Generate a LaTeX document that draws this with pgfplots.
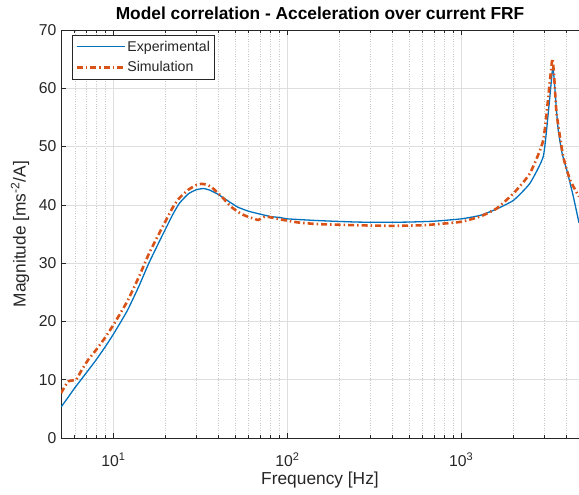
\documentclass[border=0pt]{standalone}
\usepackage{fontspec}
\setmainfont{Liberation Sans}
\usepackage{pgfplots}
\pgfplotsset{compat=1.18}
\definecolor{mblue}{RGB}{0,114,189}
\definecolor{morange}{RGB}{217,83,25}
\definecolor{axc}{RGB}{38,38,38}
\definecolor{gridc}{RGB}{222,222,222}
\definecolor{gridm}{RGB}{200,200,200}

\pgfplotstableread{
f v
5 5.3
5.5 7.0
6 8.6
7 11.2
8 13.5
9 15.7
10 17.8
12 21.8
14 26.0
16 30.0
19 34.6
22 38.4
24 40.3
27 41.9
30 42.6
33 42.8
36 42.5
40 41.8
46 40.6
52 39.6
60 38.9
70 38.4
80 38.0
92 37.8
100 37.6
150 37.3
250 37.05
357 37.0
500 37.05
700 37.2
1000 37.6
1285 38.2
1600 39.3
2000 40.8
2480 43.7
2960 48.3
3160 55.7
3300 61.5
3350 63.5
3390 62.8
3450 60.0
3520 56.5
3610 52.8
3800 48.8
4040 46.0
4400 41.5
4750 36.9
}\exper

\pgfplotstableread{
f v
5 7.7
5.5 9.7
6.1 10.0
6.5 11.4
7.16 13.4
8 15.2
9 17.3
10 19.4
12 23.4
14 27.6
16 31.6
19 36.0
22 39.6
24 41.2
27 42.6
30 43.4
32 43.6
34 43.5
36.5 43.1
42 41.4
47.4 39.7
54 38.5
60 37.9
65 37.6
68 37.4
75 38.0
91.5 37.5
114 37.0
150 36.7
250 36.5
400 36.4
600 36.5
800 36.8
1000 37.1
1285 38.0
1600 39.4
2000 42.0
2480 45.4
2960 51.1
3236 61.4
3340 65.1
3420 62.0
3530 55.7
3855 48.3
4217 44.3
4750 41.4
}\simul

\begin{document}
\begin{tikzpicture}
\begin{axis}[
  name=ax,
  scale only axis, width=518bp, height=408bp,
  xmode=log, xmin=5, xmax=4750, ymin=0, ymax=70,
  ytick={0,10,...,70},
  xtick={10,100,1000},
  xticklabels={10\textsuperscript{1},10\textsuperscript{2},10\textsuperscript{3}},
  minor xtick={5,6,7,8,9,20,30,40,50,60,70,80,90,200,300,400,500,600,700,800,900,2000,3000,4000},
  axis y line*=left,
  axis line style={color=axc, line width=0.6bp},
  tick style={color=axc, line width=0.6bp},
  major tick length=5bp, minor tick length=3bp,
  tick align=inside,
  grid=both,
  major grid style={color=gridc, line width=0.5bp},
  minor grid style={color=gridm, line width=0.5bp, dotted},
  /pgf/number format/assume math mode=true,
  tick label style={font=\fontsize{15.8}{18}\selectfont, color=axc},
  xticklabel style={anchor=base, yshift=-28bp},
  yticklabel style={xshift=-1bp},
  title={Model correlation - Acceleration over current FRF},
  title style={at={(axis description cs:0.5,1)}, anchor=base, yshift=5bp, font=\bfseries\fontsize{17.4}{20}\selectfont, color=black},
  xlabel={Frequency [Hz]},
  xlabel style={at={(axis description cs:0.5,0)}, anchor=base, yshift=-46bp, font=\fontsize{17.4}{20}\selectfont, color=axc},
  ylabel={Magnitude [ms\textsuperscript{-2}/A]},
  ylabel style={at={(axis description cs:-0.0792,0.5)}, anchor=center, font=\fontsize{17.4}{20}\selectfont, color=axc},
  legend style={at={(axis description cs:0.0212,0.9877)}, anchor=north west, draw=axc, line width=0.6bp, fill=white,
    font=\fontsize{14.2}{17}\selectfont, text=axc, inner xsep=3bp, inner ysep=4bp, row sep=6bp,
    cells={anchor=west}, nodes={inner sep=1.5bp}},
  legend image code/.code={\draw[#1] (0bp,0bp) -- (48bp,0bp);},
  clip=true,
]
\addplot[mblue, line width=1.3bp, smooth, tension=0.3] table[x=f,y=v] {\exper};
\addlegendentry{Experimental}
\addplot[morange, line width=2.6bp, dash pattern=on 6bp off 3bp on 1.5bp off 3bp, smooth, tension=0.3] table[x=f,y=v] {\simul};
\addlegendentry{Simulation}
\end{axis}
\pgfresetboundingbox
\path[use as bounding box] ([xshift=-61bp,yshift=-57bp]ax.south west) rectangle ([yshift=30bp]ax.north east);
\end{tikzpicture}
\end{document}
